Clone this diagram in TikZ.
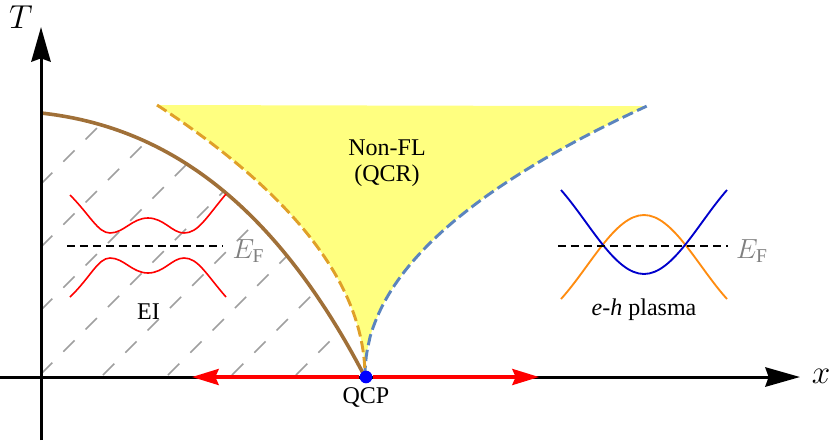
\documentclass[tikz,border=0pt]{standalone}
\usepackage{amsmath}
\usepackage{fontspec}
\setmainfont{Liberation Serif}
\usetikzlibrary{arrows.meta}

\definecolor{qcryellow}{HTML}{FFFF80}
\definecolor{crossorange}{HTML}{E0A028}
\definecolor{crossblue}{HTML}{5B84BE}
\definecolor{domebrown}{HTML}{A07038}
\definecolor{bandorange}{HTML}{FF8C10}
\definecolor{bandblue}{HTML}{0000CC}

\begin{document}
\begin{tikzpicture}[
  x=0.75pt, y=-0.75pt,
  axis/.style={line width=2.25pt, -{Stealth[length=26pt,width=14.5pt,inset=2.5pt]}},
  drive/.style={red, line width=2.6pt, -{Stealth[length=20pt,width=12pt,inset=2.5pt]}},
  hatch/.style={gray!75, line width=1.1pt, dash pattern=on 12pt off 11.65pt},
  fermi/.style={black, line width=1.3pt, dash pattern=on 6pt off 3.7pt},
  gapband/.style={red, line width=1.2pt},
  crossover/.style={line width=2.2pt, dash pattern=on 8.5pt off 3.5pt},
  label/.style={inner sep=0pt, font=\fontsize{18}{19.5}\selectfont, align=center},
  axislabel/.style={inner sep=0pt, font=\fontsize{24}{26}\selectfont},
  efermi/.style={inner sep=0pt, text=gray, font=\fontsize{21}{23}\selectfont}
]
  \useasboundingbox (0,0) rectangle (831,440);

  % Quantum critical region
  \fill[qcryellow] plot[domain=1:0.0001, samples=60] ({365-208*\x*\x},{377-272*\x})
    -- plot[domain=0.0001:1, samples=60] ({365+282*\x*\x},{377-271*pow(\x,0.96)}) -- cycle;

  % Hatching below the dome
  \begin{scope}
    \clip (41,113) .. controls (150,125) and (265,185) .. (365,377) -- (41,377) -- cycle;
    \foreach \s in {225,288,351,415} {
      \draw[hatch] (41,\s-41) -- (\s-41,41);
    }
    \foreach \s in {478,543,607,671} {
      \draw[hatch] (\s-375,375) -- (\s-41,41);
    }
  \end{scope}

  % Crossover and transition lines
  \draw[crossover, crossblue] plot[domain=0.0001:1, samples=60] ({365+282*\x*\x},{377-271*pow(\x,0.96)});
  \draw[crossover, crossorange] plot[domain=1:0.0001, samples=60] ({365-208*\x*\x},{377-272*\x});
  \draw[domebrown, line width=2.7pt] (41,113) .. controls (150,125) and (265,185) .. (365,377);

  % Axes
  \coordinate (xstart) at (0,377);
  \coordinate (xend) at (800,377);
  \coordinate (ystart) at (41,440);
  \coordinate (yend) at (41,27);
  \draw[axis] (xstart) -- (xend);
  \draw[axis] (ystart) -- (yend);
  \node[axislabel] (tlabel) at (21,17) {$T$};
  \node[axislabel] (xlabel) at (821,376) {$x$};

  % Tuning arrows and critical point
  \coordinate (dleft) at (192,377);
  \coordinate (dright) at (539,377);
  \node[circle, fill=blue, inner sep=0pt, minimum size=9.5pt] (qcp) at (366,377) {};
  \draw[drive] (qcp) -- (dleft);
  \draw[drive] (qcp) -- (dright);
  \node[label] (qcplabel) at (366,397) {QCP};

  % Gapped bands
  \draw[gapband] (70,195) .. controls (90,215) and (98,233) .. (110,233) .. controls (124,233) and (132,218) .. (148,218)
    .. controls (164,218) and (172,233) .. (184,233) .. controls (198,233) and (206,218) .. (226,194);
  \draw[gapband] (70,297) .. controls (90,278) and (98,258) .. (110,258) .. controls (124,258) and (132,273) .. (148,273)
    .. controls (164,273) and (172,258) .. (184,258) .. controls (198,258) and (206,274) .. (226,297);
  \coordinate (fa) at (67,246);
  \coordinate (fb) at (223,246);
  \draw[fermi] (fa) -- (fb);
  \node[efermi] (efl) at (248.5,251) {$E_{\mathrm{F}}$};
  \node[label] (ei) at (148.5,312) {EI};

  % Overlapping bands
  \draw[bandorange, line width=1.4pt] (561,299) .. controls (590,267) and (615,215) .. (644,215) .. controls (673,215) and (698,267) .. (727,299);
  \draw[bandblue, line width=1.4pt] (561,190) .. controls (590,223) and (615,274) .. (644,274) .. controls (673,274) and (698,223) .. (727,190);
  \coordinate (fc) at (558,246);
  \coordinate (fd) at (728,246);
  \draw[fermi] (fc) -- (fd);
  \node[efermi] (efr) at (752,251) {$E_{\mathrm{F}}$};
  \node[label] (plasma) at (644,310) {\textit{e-h} plasma};

  \node[label] (qcr) at (387,163) {Non-FL\\(QCR)};
\end{tikzpicture}
\end{document}
